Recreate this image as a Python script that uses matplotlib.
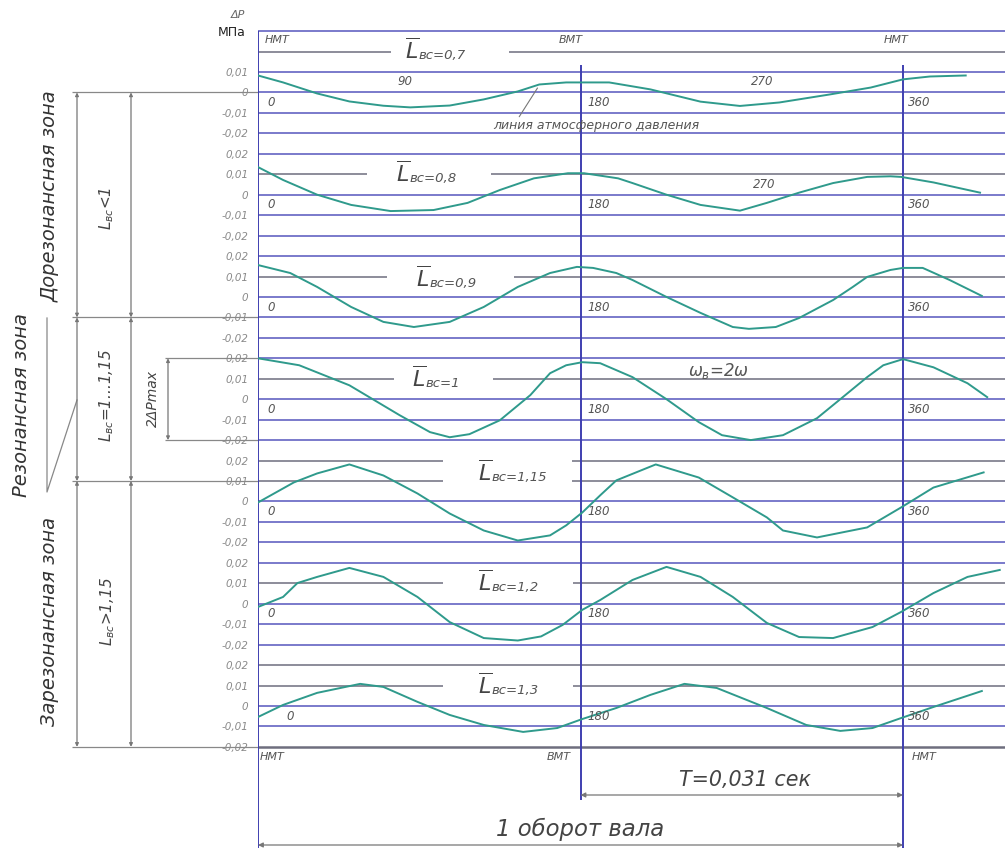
import matplotlib.pyplot as plt
from matplotlib import font_manager

W, H = 1005, 848
X0, X180 = 258, 580.5            # pixel x of 0 and 180 degrees
PX_PER_DEG = (X180 - X0) / 180
Y_ROW0, ROW_H = 72, 20.45        # first grid line, spacing (1 row = 0.01 MPa)


def row(ypx):
    return (ypx - Y_ROW0) / ROW_H


# ---- data: crank angle (deg) vs dP (MPa) ----
panel_names = ["0,7", "0,8", "0,9", "1", "1,15", "1,2", "1,3"]

deg_07 = [0, 14, 33, 51, 70, 85, 107, 126, 145, 157, 172, 196, 219, 247, 269, 291, 319, 342, 360, 375, 395]
dp_07 = [0.0083, 0.0049, -0.0005, -0.0044, -0.0065, -0.0073, -0.0064, -0.0034, 0.0005, 0.0039, 0.0049,
         0.0049, 0.0015, -0.0045, -0.0066, -0.0049, -0.0010, 0.0024, 0.0064, 0.0078, 0.0083]

deg_08 = [0, 14, 33, 52, 74, 98, 117, 135, 154, 173, 182, 201, 209, 228, 247, 269, 284, 302, 321, 340, 353, 359, 377, 403]
dp_08 = [0.0135, 0.0072, 0.0, -0.005, -0.008, -0.0075, -0.004, 0.0023, 0.008, 0.0105, 0.0105, 0.008, 0.0057,
         0.0, -0.005, -0.0078, -0.004, 0.001, 0.0057, 0.0087, 0.009, 0.0087, 0.006, 0.001]

deg_09 = [0, 18, 33, 52, 70, 87, 107, 126, 145, 163, 178, 187, 200, 209, 228, 247, 265, 274, 289, 302, 321,
          332, 340, 353, 360, 371, 386, 404]
dp_09 = [0.0156, 0.0117, 0.0049, -0.0049, -0.0122, -0.0147, -0.0122, -0.0049, 0.0049, 0.0117, 0.0147, 0.0142,
         0.0117, 0.0083, 0.0, -0.0078, -0.0147, -0.0156, -0.0147, -0.0103, -0.0015, 0.0049, 0.0098, 0.0132,
         0.0142, 0.0142, 0.0083, 0.0005]

deg_10 = [0, 23, 51, 79, 96, 107, 118, 135, 152, 163, 172, 181, 191, 209, 228, 246, 259, 275, 293, 312, 325,
          340, 349, 360, 377, 396, 407]
dp_10 = [0.0200, 0.0166, 0.0068, -0.0078, -0.0161, -0.0186, -0.0171, -0.0103, 0.002, 0.0127, 0.0166, 0.0181,
         0.0176, 0.0108, 0.0, -0.0112, -0.0176, -0.0200, -0.0176, -0.0093, 0.0, 0.0108, 0.0166, 0.0196,
         0.0156, 0.0078, 0.001]

deg_115 = [0, 20, 33, 51, 70, 89, 107, 126, 145, 163, 172, 181, 191, 200, 222, 246, 265, 284, 293, 312, 340,
           359, 377, 405]
dp_115 = [-0.0005, 0.0093, 0.0137, 0.0181, 0.0127, 0.0039, -0.0059, -0.0142, -0.0191, -0.0166, -0.0117,
          -0.0054, 0.003, 0.0103, 0.0181, 0.0117, 0.002, -0.0078, -0.0142, -0.0176, -0.0127, -0.0029, 0.0068,
          0.0142]

deg_12 = [0, 14, 22, 33, 51, 70, 89, 107, 126, 145, 158, 170, 181, 191, 209, 228, 247, 265, 284, 302, 321,
          343, 359, 377, 396, 414]
dp_12 = [-0.0016, 0.0033, 0.0101, 0.0131, 0.0175, 0.0131, 0.0033, -0.009, -0.0168, -0.018, -0.016, -0.0104,
         -0.003, 0.0018, 0.0116, 0.018, 0.0131, 0.0033, -0.0094, -0.0163, -0.0168, -0.0114, -0.004, 0.0052,
         0.0131, 0.0165]

deg_13 = [0, 14, 33, 57, 70, 89, 107, 126, 148, 167, 181, 200, 219, 238, 256, 284, 306, 325, 343, 359, 377, 404]
dp_13 = [-0.0054, 0.0005, 0.0064, 0.0108, 0.0093, 0.002, -0.0044, -0.0093, -0.0127, -0.0108, -0.0064, -0.001,
         0.0054, 0.0108, 0.0088, -0.001, -0.0093, -0.0122, -0.0108, -0.0059, -0.0005, 0.0073]

curves = [(deg_07, dp_07), (deg_08, dp_08), (deg_09, dp_09), (deg_10, dp_10),
          (deg_115, dp_115), (deg_12, dp_12), (deg_13, dp_13)]

panel0_ticks = ["0,01", "0", "-0,01", "-0,02"]
panel_ticks = ["0,02", "0,01", "0", "-0,01", "-0,02"]

# ---- layout ----
zero_rows = [1, 6, 11, 16, 21, 26, 31]
title_pos = [(82, -1.05), (77, 5.0), (88, 10.1), (86, 15.0), (123, 19.6), (123, 25.0), (123, 30.0)]
gaps = {-1: (74, 140), 5: (61, 130), 10: (72, 143), 15: (76, 131),
        19: (103, 175), 20: (103, 175), 25: (103, 176), 30: (103, 176)}

BLUE = "#5656bd"
VBLUE = "#3f3fb0"
GRAY = "#6e6e7e"
TEAL = "#2f9a8c"

names = {f.name for f in font_manager.fontManager.ttflist}
NARROW = "Liberation Sans Narrow" in names
BIGFAM = ["Liberation Sans Narrow", "DejaVu Sans"] if NARROW else ["DejaVu Sans"]
big_k = 1.0 if NARROW else 0.78

fig = plt.figure(figsize=(W / 100, H / 100), dpi=100)
fig.patch.set_facecolor("white")

an = fig.add_axes([0, 0, 1, 1])
an.set_xlim(0, W)
an.set_ylim(row(H), row(0))
an.axis("off")

ax = fig.add_axes([X0 / W, 0, (W - X0) / W, 1])
xmax = (W - X0) / PX_PER_DEG
ax.set_xlim(0, xmax)
ax.set_ylim(row(H), row(0))
ax.patch.set_alpha(0)
for s in ax.spines.values():
    s.set_visible(False)
ax.set_xticks([])

tick_rows = list(range(0, 34))
tick_labels = panel0_ticks + panel_ticks * 6
ax.set_yticks(tick_rows)
ax.set_yticklabels(tick_labels)
ax.tick_params(axis="y", length=0, pad=7, labelsize=7.5, labelcolor="#8a8a8a")
for lbl in ax.get_yticklabels():
    lbl.set_style("italic")

# horizontal grid
for r in range(-2, 34):
    col = GRAY if (r in gaps or r in (29, 33)) else BLUE
    lw = 1.8 if r == 33 else 1.1
    if r in gaps:
        a, b = gaps[r]
        ax.hlines(r, 0, a, color=col, lw=lw)
        ax.hlines(r, b, xmax, color=col, lw=lw)
    else:
        ax.hlines(r, 0, xmax, color=col, lw=lw)

# vertical lines: 0, 180, 360 deg
ax.vlines(0, -2, row(H), color=VBLUE, lw=1.4)
ax.vlines(180, row(65), row(800), color=VBLUE, lw=1.4)
ax.vlines(360, row(65), row(H), color=VBLUE, lw=1.4)

# curves
for (d, p), z in zip(curves, zero_rows):
    ax.plot(d, [z - v / 0.01 for v in p], color=TEAL, lw=1.4, solid_joinstyle="round")

# titles and angle marks
tkw = dict(color="#555555", style="italic")
for name, (tx, ty) in zip(panel_names, title_pos):
    ax.text(tx, ty + 0.4, r"$\overline{L}$", fontsize=16, ha="left", va="baseline", color="#444444")
    ax.text(tx + 7.5, ty + 0.4, "вс=" + name, fontsize=9.5, ha="left", va="baseline", **tkw)

for z in zero_rows:
    x_zero = 16 if z == 31 else 5
    ax.text(x_zero, z + 0.5, "0", fontsize=8.5, ha="left", va="center", **tkw)
    ax.text(184, z + 0.5, "180", fontsize=8.5, ha="left", va="center", **tkw)
    ax.text(363, z + 0.5, "360", fontsize=8.5, ha="left", va="center", **tkw)
ax.text(78, 0.45, "90", fontsize=8.5, ha="left", va="center", **tkw)
ax.text(275, 0.45, "270", fontsize=8.5, ha="left", va="center", **tkw)
ax.text(276, 5.5, "270", fontsize=8.5, ha="left", va="center", **tkw)
ax.text(257, 14.6, r"$\omega_{\mathit{в}}$=2$\omega$", fontsize=12, ha="center", va="center", **tkw)

# header / footer marks
for xd, lab, yr in [(4, "НМТ", -1.55), (168, "ВМТ", -1.55), (349, "НМТ", -1.55),
                    (1, "НМТ", 33.5), (161, "ВМТ", 33.5), (365, "НМТ", 33.5)]:
    ax.text(xd, yr, lab, fontsize=8, ha="left", va="center", **tkw)

# atmospheric line note
ax.annotate("линия атмосферного давления", xy=(156, row(88)), xytext=(131, row(126)),
            fontsize=9, ha="left", va="center", **tkw,
            arrowprops=dict(arrowstyle="-", color="#777777", lw=0.8, shrinkA=0, shrinkB=0,
                            relpos=(0.1, 0.5)))

# period and revolution dimensions
akw = dict(arrowstyle="<|-|>", color="#777777", lw=0.9, mutation_scale=7, shrinkA=0, shrinkB=0)
ax.annotate("", xy=(180, row(795)), xytext=(360, row(795)), arrowprops=akw)
ax.annotate("", xy=(0, row(845)), xytext=(360, row(845)), arrowprops=akw)
ax.text(272, row(780), "T=0,031 сек", fontsize=19 * big_k, family=BIGFAM, ha="center", va="center",
        color="#444444", style="italic")
ax.text(180, row(829), "1 оборот вала", fontsize=21 * big_k, family=BIGFAM, ha="center", va="center",
        color="#444444", style="italic")

# ---- left side: units and zone dimensions (x in pixels) ----
an.text(238, row(15), "ΔP", fontsize=8, ha="center", va="center", color="#666666", style="italic")
an.text(232, row(33), "МПа", fontsize=9, ha="center", va="center", color="#222222")

for r in (1, 12, 20, 33):
    an.hlines(r, 72, X0, color="#888888", lw=0.9)
for x in (77, 131):
    for a, b in ((1, 12), (12, 20), (20, 33)):
        an.annotate("", xy=(x, a), xytext=(x, b), arrowprops=dict(akw, mutation_scale=5))
an.hlines([14, 18], 165, X0, color="#888888", lw=0.9)
an.annotate("", xy=(168, 14), xytext=(168, 18), arrowprops=dict(akw, mutation_scale=5))

zkw = dict(rotation=90, ha="center", va="center", color="#333333", style="italic", family=BIGFAM)
an.text(50, row(196), "Дорезонансная зона", fontsize=18 * big_k, **zkw)
an.text(22, row(405), "Резонансная зона", fontsize=18 * big_k, **zkw)
an.text(50, row(621), "Зарезонансная зона", fontsize=18 * big_k, **zkw)
an.plot([47, 47, 77], [row(318), row(492), row(400)], color="#888888", lw=0.9)

skw = dict(rotation=90, ha="center", va="center", color="#444444", style="italic")
an.text(107, row(208), r"$L_{вс}$<1", fontsize=11, **skw)
an.text(107, row(395), r"$L_{вс}$=1...1,15", fontsize=11, **skw)
an.text(153, row(398), "2ΔPmax", fontsize=10, **skw)
an.text(108, row(612), r"$L_{вс}$>1,15", fontsize=11, **skw)

fig.savefig("out.png", dpi=100, facecolor="white")
